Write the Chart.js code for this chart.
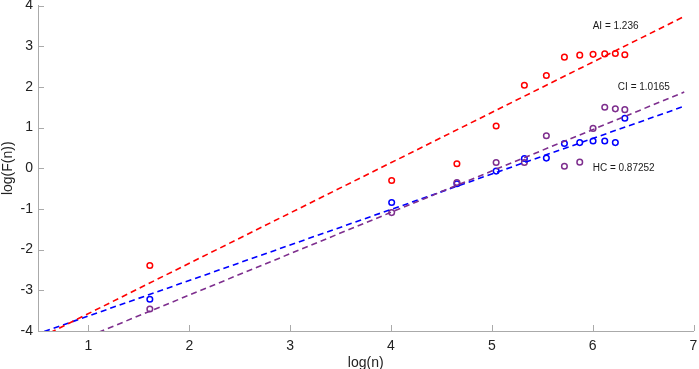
<!DOCTYPE html>
<html>
<head>
<meta charset="utf-8">
<script src="https://cdn.jsdelivr.net/npm/chart.js@4.4.0/dist/chart.umd.min.js"></script>
<style>
  html, body { margin: 0; padding: 0; background: #fff; }
  #wrap { width: 699px; height: 369px; }
</style>
</head>
<body>
<div id="wrap"><canvas id="chart"></canvas></div>
<script>
// log(n) for n = 5, 55, 105 ... 555
const logN = [1.609, 4.007, 4.654, 5.043, 5.323, 5.541, 5.720, 5.872, 6.004, 6.120, 6.225, 6.319];
const aiVals = [-2.39, -0.30, 0.11, 1.04, 2.04, 2.28, 2.73, 2.78, 2.80, 2.81, 2.82, 2.79];
const ciVals = [-3.46, -1.09, -0.35, 0.14, 0.14, 0.80, 0.05, 0.15, 0.98, 1.50, 1.46, 1.44];
const hcVals = [-3.22, -0.84, -0.38, -0.07, 0.24, 0.25, 0.61, 0.63, 0.67, 0.67, 0.63, 1.23];

// fitted lines: slope / intercept, drawn over x range
const fitNames = ['AI', 'CI', 'HC'];
const fitSlopes = [1.236, 1.0165, 0.87252];
const fitIntercepts = [-4.808, -5.150, -4.504];
const fitRange = [0, 6.908];
const labelPos = [[6.0, 3.5], [6.25, 2.0], [6.0, 0.0]];

const xTicks = [1, 2, 3, 4, 5, 6, 7];
const yTicks = [-4, -3, -2, -1, 0, 1, 2, 3, 4];

const colors = ['#ff0000', '#7e2f8e', '#0000ff'];
const series = [aiVals, ciVals, hcVals];

function pts(xs, ys) {
    return xs.map((x, i) => ({ x: x, y: ys[i] }));
}

var datasets = [];
for (let k = 0; k < 3; k++) {
    datasets.push({
        label: fitNames[k] + ' fit',
        data: fitRange.map(x => ({ x: x, y: fitSlopes[k] * x + fitIntercepts[k] })),
        showLine: true,
        borderColor: colors[k],
        borderWidth: 1.6,
        borderDash: [6, 4],
        pointRadius: 0,
        fill: false
    });
}
for (let k = 0; k < 3; k++) {
    datasets.push({
        label: fitNames[k],
        data: pts(logN, series[k]),
        showLine: false,
        pointRadius: 2.8,
        pointBorderWidth: 1.5,
        pointBorderColor: colors[k],
        pointBackgroundColor: 'rgba(0,0,0,0)'
    });
}

// inward ticks + text labels
const extras = {
    id: 'extras',
    afterDraw(chart) {
        const ctx = chart.ctx;
        const xs = chart.scales.x, ys = chart.scales.y;
        const area = chart.chartArea;
        ctx.save();
        ctx.strokeStyle = '#aaaaaa';
        ctx.lineWidth = 1;
        ctx.beginPath();
        xTicks.forEach(t => {
            const px = Math.round(xs.getPixelForValue(t)) + 0.5;
            ctx.moveTo(px, area.bottom);
            ctx.lineTo(px, area.bottom - 6);
        });
        yTicks.forEach(t => {
            const py = Math.round(ys.getPixelForValue(t)) + 0.5;
            ctx.moveTo(area.left, py);
            ctx.lineTo(area.left + 6, py);
        });
        ctx.stroke();

        ctx.fillStyle = '#1a1a1a';
        ctx.font = '10px "Liberation Sans", Arial, sans-serif';
        ctx.textAlign = 'left';
        ctx.textBaseline = 'middle';
        for (let k = 0; k < 3; k++) {
            ctx.fillText(fitNames[k] + ' = ' + fitSlopes[k],
                xs.getPixelForValue(labelPos[k][0]), ys.getPixelForValue(labelPos[k][1]));
        }
        ctx.restore();
    }
};

var tickFont = { family: '"Liberation Sans", Arial, sans-serif', size: 14 };

var chart = new Chart(document.getElementById('chart').getContext('2d'), {
    type: 'scatter',
    data: { datasets: datasets },
    options: {
        responsive: true,
        maintainAspectRatio: false,
        animation: false,
        layout: { padding: { top: 5, right: 0, left: 0, bottom: 0 } },
        plugins: { legend: { display: false }, tooltip: { enabled: false } },
        scales: {
            x: {
                type: 'linear',
                min: 0.5,
                max: 7,
                afterBuildTicks: s => { s.ticks = xTicks.map(v => ({ value: v })); },
                afterFit: s => { s.height = 38; s.paddingRight = 4; s.paddingLeft = 0; },
                grid: { display: false, drawTicks: false },
                border: { display: true, color: '#aaaaaa', width: 1 },
                ticks: { color: '#222', font: tickFont, padding: 7, maxRotation: 0 },
                title: { display: true, text: 'log(n)', color: '#222', font: tickFont, padding: { top: 0, bottom: -3 } }
            },
            y: {
                type: 'linear',
                min: -4,
                max: 4,
                afterBuildTicks: s => { s.ticks = yTicks.map(v => ({ value: v })); },
                afterFit: s => { s.width = 38; s.paddingTop = 0; s.paddingBottom = 0; },
                grid: { display: false, drawTicks: false },
                border: { display: true, color: '#aaaaaa', width: 1 },
                ticks: { color: '#222', font: tickFont, padding: 5 },
                title: { display: true, text: 'log(F(n))', color: '#222', font: tickFont, padding: 0 }
            }
        }
    },
    plugins: [extras]
});
</script>
</body>
</html>
